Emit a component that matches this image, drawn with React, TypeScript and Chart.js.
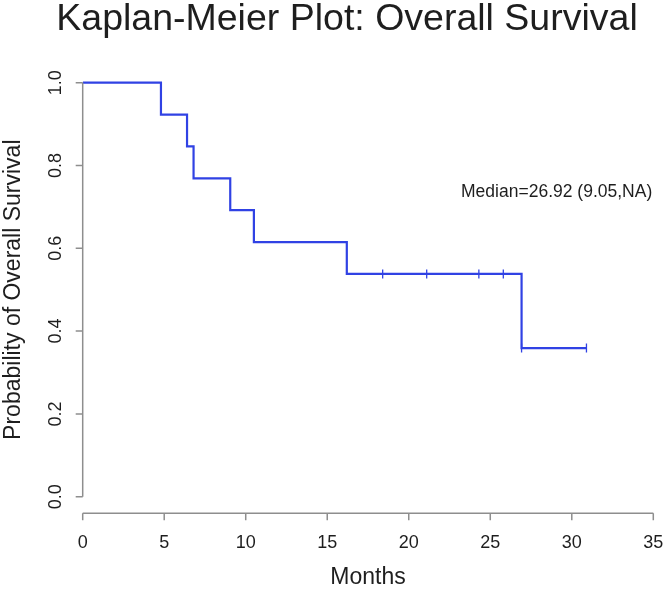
import React, { useEffect, useRef } from 'react';
import { Chart, registerables } from 'chart.js';

Chart.register(...registerables);

// ---- Text ----
const TITLE = 'Kaplan-Meier Plot: Overall Survival';
const X_TITLE = 'Months';
const Y_TITLE = 'Probability of Overall Survival';
const ANNOTATION = 'Median=26.92 (9.05,NA)';
const ANNOT_X = 29.07;
const ANNOT_Y = 0.736;

// ---- Axes ----
const xTicks = [0, 5, 10, 15, 20, 25, 30, 35];
const xTickLabels = ['0', '5', '10', '15', '20', '25', '30', '35'];
const yTicks = [0, 0.2, 0.4, 0.6, 0.8, 1.0];
const yTickLabels = ['0.0', '0.2', '0.4', '0.6', '0.8', '1.0'];

// ---- Kaplan-Meier step curve (time, survival after the event) ----
const kmTimes = [0, 4.8, 6.4, 6.8, 9.05, 10.5, 16.2, 26.92, 30.9];
const kmSurvival = [1.0, 0.923, 0.846, 0.769, 0.692, 0.615, 0.538, 0.359, 0.359];

// ---- Censored observations ----
const censorTimes = [18.4, 21.1, 24.3, 25.8, 26.92, 30.9];
const censorSurvival = [0.538, 0.538, 0.538, 0.538, 0.359, 0.359];

const BLUE = '#3042e4';
const AXIS = '#8e8e8e';
const TEXT = '#1e1e1e';
const FONT = "'Liberation Sans', Arial, Helvetica, sans-serif";

const rAxesPlugin = {
  id: 'rAxes',
  afterDraw(chart: any) {
    const { ctx } = chart;
    const x = chart.scales.x;
    const y = chart.scales.y;
    const yBase = y.getPixelForValue(y.min);
    const xBase = x.getPixelForValue(x.min);
    const TICK = 7;

    ctx.save();
    ctx.strokeStyle = AXIS;
    ctx.lineWidth = 1.5;

    // x axis
    ctx.beginPath();
    ctx.moveTo(x.getPixelForValue(xTicks[0]), yBase);
    ctx.lineTo(x.getPixelForValue(xTicks[xTicks.length - 1]), yBase);
    xTicks.forEach((t) => {
      const px = x.getPixelForValue(t);
      ctx.moveTo(px, yBase);
      ctx.lineTo(px, yBase + TICK);
    });
    ctx.stroke();

    // y axis
    ctx.beginPath();
    ctx.moveTo(xBase, y.getPixelForValue(yTicks[0]));
    ctx.lineTo(xBase, y.getPixelForValue(yTicks[yTicks.length - 1]));
    yTicks.forEach((t) => {
      const py = y.getPixelForValue(t);
      ctx.moveTo(xBase, py);
      ctx.lineTo(xBase - TICK, py);
    });
    ctx.stroke();

    ctx.fillStyle = TEXT;
    ctx.textAlign = 'center';
    ctx.textBaseline = 'middle';

    // x tick labels
    ctx.font = `18px ${FONT}`;
    xTicks.forEach((t, i) => {
      ctx.fillText(xTickLabels[i], x.getPixelForValue(t), yBase + 30);
    });

    // y tick labels (rotated, R style)
    yTicks.forEach((t, i) => {
      ctx.save();
      ctx.translate(xBase - 27, y.getPixelForValue(t));
      ctx.rotate(-Math.PI / 2);
      ctx.fillText(yTickLabels[i], 0, 0);
      ctx.restore();
    });

    // axis titles
    ctx.font = `23px ${FONT}`;
    ctx.fillText(X_TITLE, (x.left + x.right) / 2, yBase + 64);
    ctx.save();
    ctx.translate(xBase - 69, (y.top + y.bottom) / 2);
    ctx.rotate(-Math.PI / 2);
    ctx.fillText(Y_TITLE, 0, 0);
    ctx.restore();

    // main title
    ctx.font = `37.5px ${FONT}`;
    ctx.textBaseline = 'alphabetic';
    ctx.fillText(TITLE, 347, 30);

    // annotation
    ctx.font = `17.5px ${FONT}`;
    ctx.textBaseline = 'middle';
    ctx.fillText(ANNOTATION, x.getPixelForValue(ANNOT_X), y.getPixelForValue(ANNOT_Y));

    ctx.restore();
  },
};

export default function App() {
  const canvasRef = useRef<HTMLCanvasElement | null>(null);

  useEffect(() => {
    document.body.style.margin = '0';
    const canvas = canvasRef.current;
    if (!canvas) return;

    const kmData = kmTimes.map((t, i) => ({ x: t, y: kmSurvival[i] }));
    const censorData = censorTimes.map((t, i) => ({ x: t, y: censorSurvival[i] }));

    const chart = new Chart(canvas, {
      type: 'line',
      data: {
        datasets: [
          {
            label: 'Overall survival',
            data: kmData,
            borderColor: BLUE,
            backgroundColor: BLUE,
            borderWidth: 2.2,
            pointRadius: 0,
            stepped: true,
            fill: false,
          } as any,
          {
            label: 'Censored',
            type: 'scatter',
            data: censorData,
            showLine: false,
            pointStyle: 'line',
            rotation: 90,
            pointRadius: 4.5,
            borderWidth: 1.3,
            borderColor: BLUE,
            backgroundColor: BLUE,
          } as any,
        ],
      },
      options: {
        responsive: false,
        maintainAspectRatio: false,
        animation: false,
        layout: {
          padding: { left: 82.7, right: 12.7, top: 66.1, bottom: 77.7 },
        },
        plugins: {
          legend: { display: false },
          tooltip: { enabled: false },
          title: { display: false },
        },
        scales: {
          x: { type: 'linear', min: 0, max: 35, display: false },
          y: { type: 'linear', min: -0.04, max: 1.04, display: false },
        },
      },
      plugins: [rAxesPlugin],
    });

    return () => chart.destroy();
  }, []);

  return (
    <div style={{ width: 666, height: 591, background: '#ffffff' }}>
      <canvas ref={canvasRef} width={666} height={591} style={{ display: 'block' }} />
    </div>
  );
}
